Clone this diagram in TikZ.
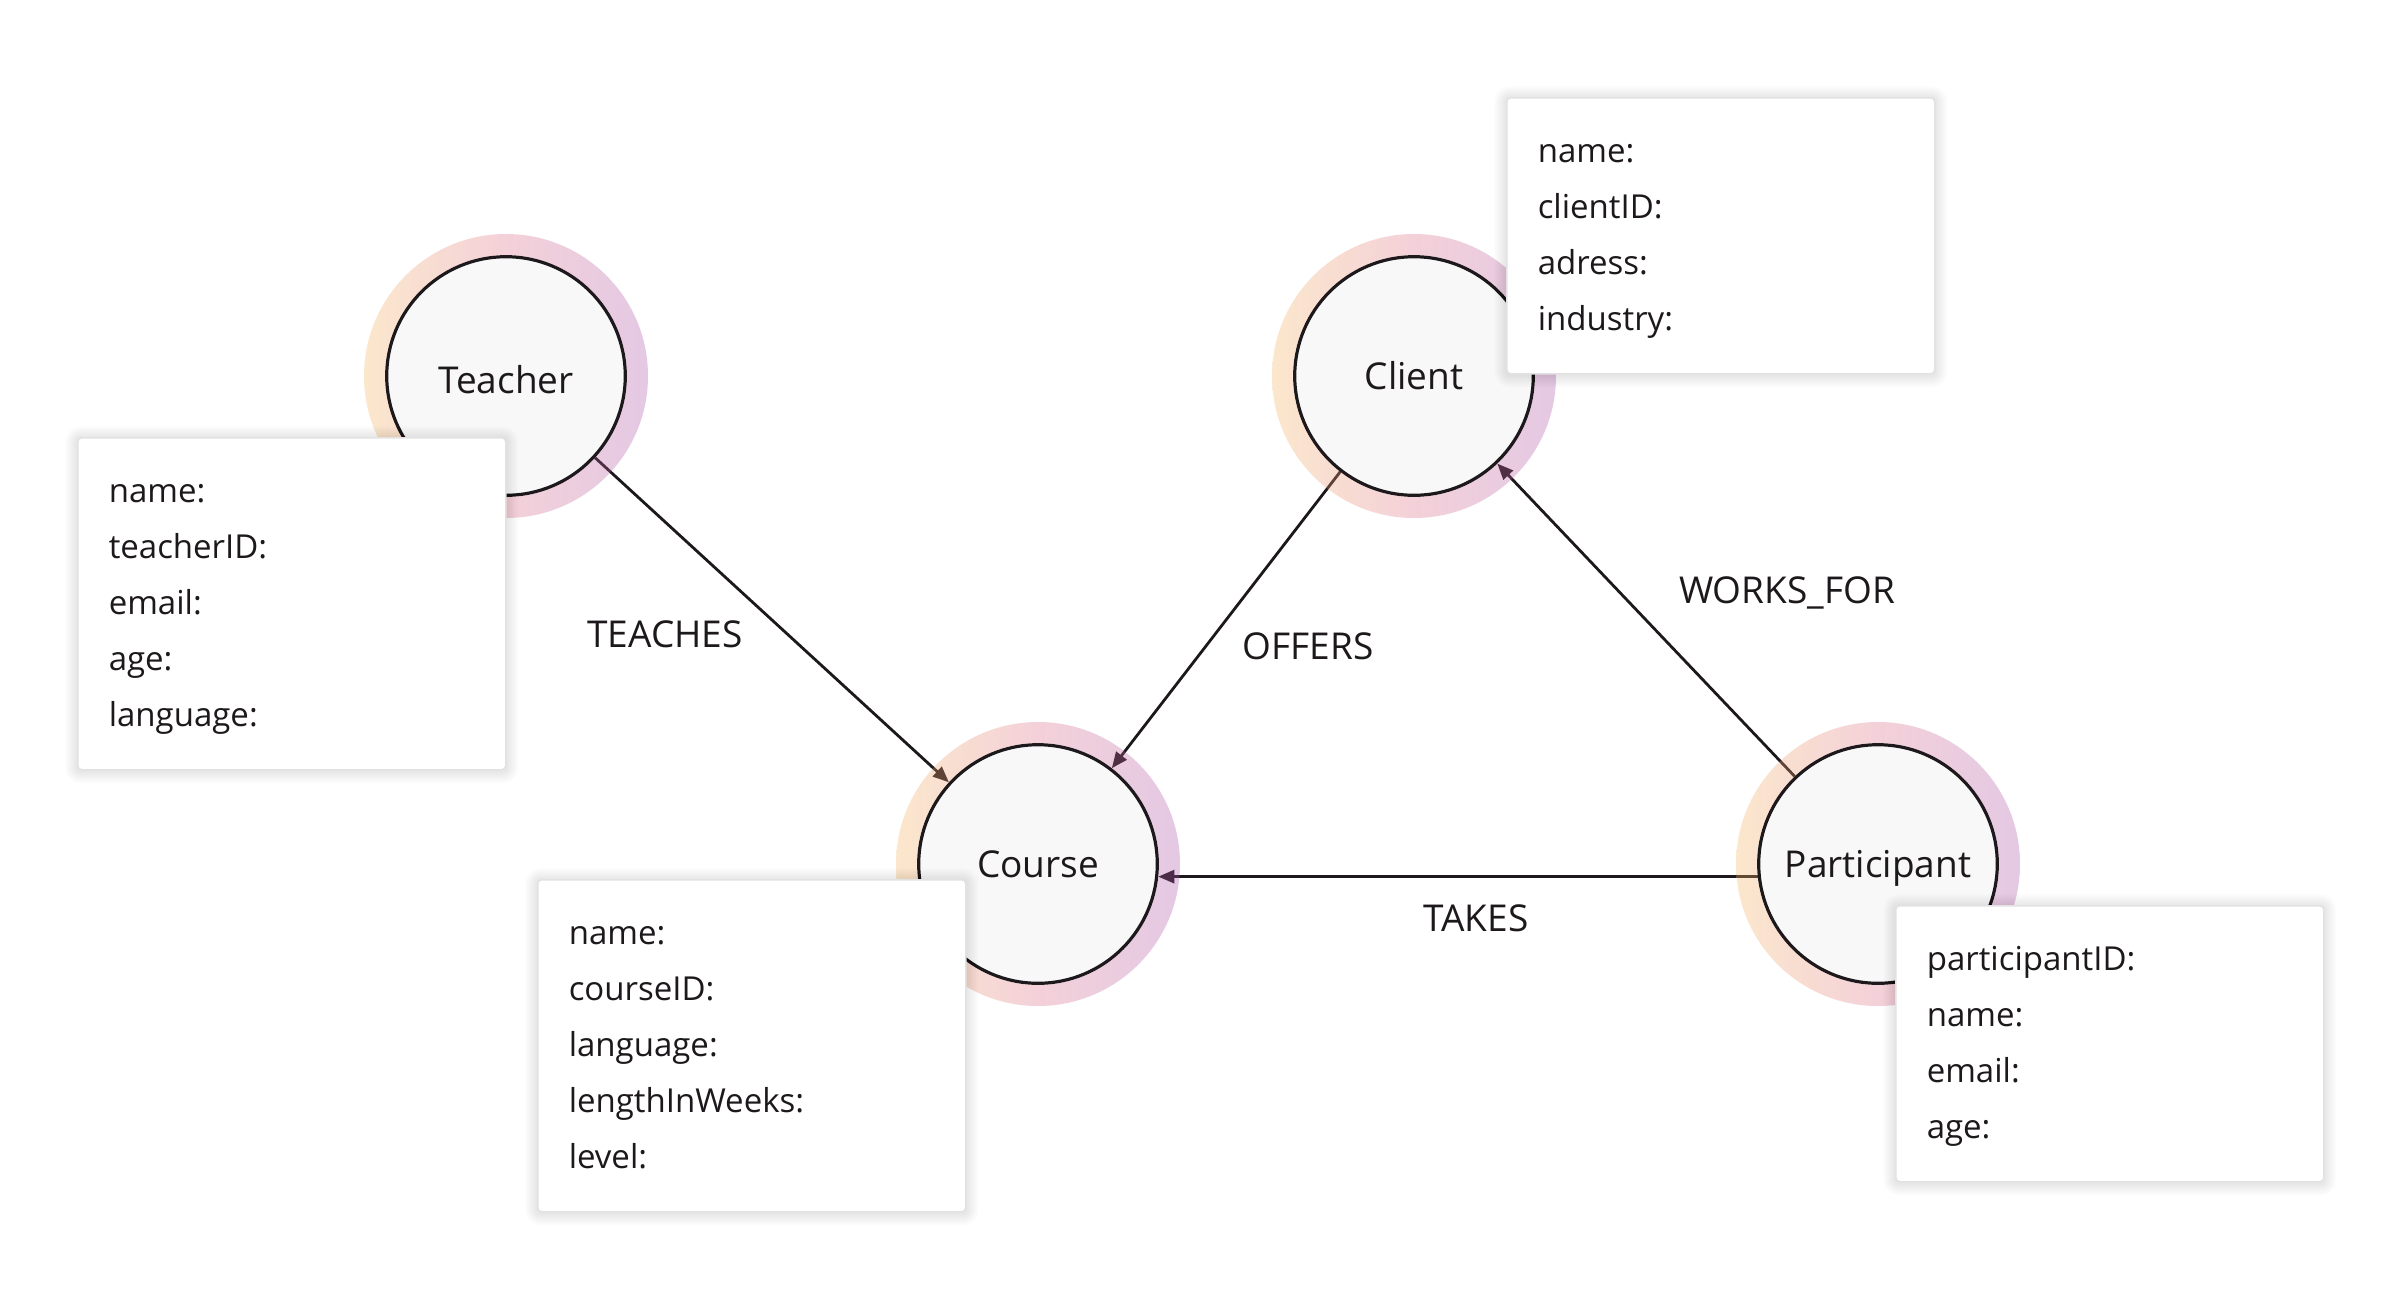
\documentclass[tikz,border=0pt]{standalone}
\usepackage{fontspec}
\setmainfont{Open Sans}
\usetikzlibrary{arrows.meta,calc}
\definecolor{ringO}{RGB}{245,182,98}
\definecolor{ringP}{RGB}{221,112,138}
\definecolor{ringV}{RGB}{172,88,172}
\definecolor{nodefill}{RGB}{248,248,248}
\definecolor{ink}{RGB}{28,24,27}
\definecolor{boxline}{RGB}{226,226,226}
\pgfdeclarelayer{shadowlayer}
\pgfdeclarelayer{front}
\pgfsetlayers{main,shadowlayer,front}
\tikzset{
  entity/.style={circle, draw=ink, line width=3.2pt, fill=nodefill, minimum size=238.6pt,
    inner sep=0pt, text=ink, font=\fontsize{37}{44}\selectfont, text height=27pt, text depth=0pt},
  rel/.style={draw=ink, line width=2.8pt, -{Triangle[length=16pt,width=13pt]}},
  rellabel/.style={anchor=base, text=ink, font=\fontsize{37}{44}\selectfont, inner sep=0pt},
  propbox/.style={anchor=north west, draw=boxline, line width=1.5pt, fill=white, rounded corners=4pt,
    inner xsep=31pt, inner ysep=26pt, text width=366pt, align=left, text=ink,
    font=\fontsize{33}{56}\selectfont},
  ring/.style={left color=ringO, right color=ringV, middle color=ringP, fill opacity=0.32, even odd rule}
}
\begin{document}
\begin{tikzpicture}[x=1pt,y=-1pt]
\useasboundingbox (0,0) rectangle (2400,1310);
\fill[white] (0,0) rectangle (2400,1310);

% entities
\node[entity, text height=35pt] (teacher) at (506,376) {Teacher};
\node[entity] (client) at (1414,376) {Client};
\node[entity] (course) at (1038,864) {Course};
\node[entity] (participant) at (1878,864) {Participant};

% relationships
\draw[rel] (teacher) -- (course);
\draw[rel] (client) -- (course);
\draw[rel] (participant) -- (client);
\draw[rel] (participant.186.6) -- (course.-6.6);

\node[rellabel] (lteaches) at (665,647) {TEACHES};
\node[rellabel] (loffers) at (1308,659) {OFFERS};
\node[rellabel] (lworks) at (1787,603) {WORKS\_FOR};
\node[rellabel] (ltakes) at (1476,931) {TAKES};

% rings
\foreach \n in {teacher,client,course,participant}{
  \shade[ring] (\n.center) circle[radius=142] (\n.center) circle[radius=121];
}

% property boxes
\begin{pgfonlayer}{front}
\node[propbox] (tbox) at (77,437) {\strut name:\\ \strut teacherID:\\ \strut email:\\ \strut age:\\ \strut language:};
\node[propbox] (cbox) at (537,879) {\strut name:\\ \strut courseID:\\ \strut language:\\ \strut lengthInWeeks:\\ \strut level:};
\node[propbox] (kbox) at (1506,97) {\strut name:\\ \strut clientID:\\ \strut adress:\\ \strut industry:};
\node[propbox] (pbox) at (1895,905) {\strut participantID:\\ \strut name:\\ \strut email:\\ \strut age:};
\end{pgfonlayer}
\begin{pgfonlayer}{shadowlayer}
\foreach \b in {tbox,cbox,kbox,pbox}{
  \foreach \k in {1,...,12}{
    \fill[black, fill opacity=0.006, rounded corners=4+\k]
      ($(\b.north west)+(-\k,-\k+1)$) rectangle ($(\b.south east)+(\k,\k+1)$);
  }
}
\end{pgfonlayer}
\end{tikzpicture}
\end{document}
